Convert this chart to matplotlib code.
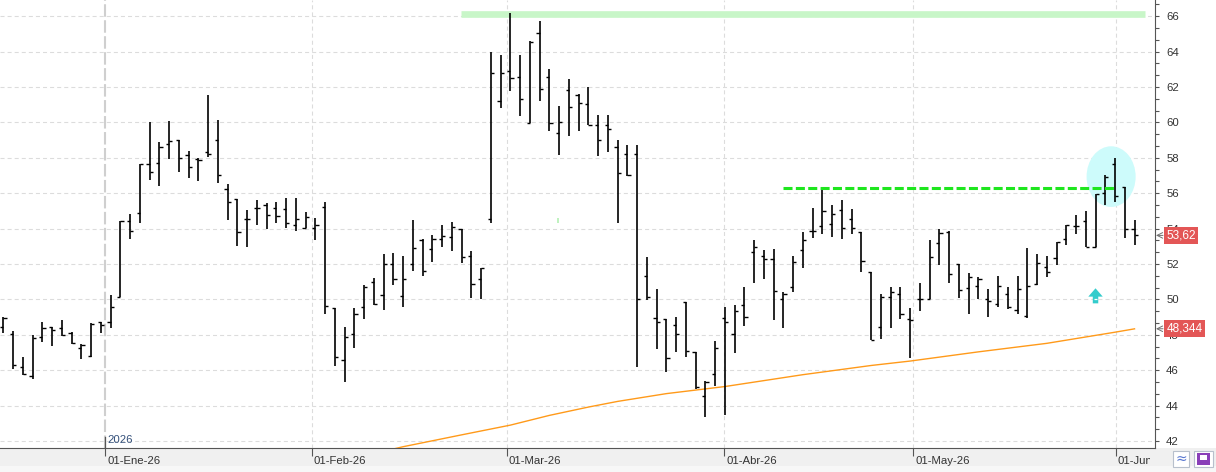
import numpy as np
import matplotlib.pyplot as plt
import matplotlib.patches as mpatches
import matplotlib.transforms as mtransforms

plt.rcParams["font.family"] = ["Liberation Sans", "DejaVu Sans"]
plt.rcParams["lines.scale_dashes"] = False

# Daily OHLC bars, one per session
opens = [48.43, 48.05, 46.20, 45.68, 47.86, 48.43, 48.37, 48.11, 47.24, 46.79,
         48.71, 48.71, 50.16, 54.42, 54.87, 57.64, 57.69, 58.77, 59.01, 58.14,
         57.94, 58.31, 58.99, 56.22, 55.66, 54.53, 55.15, 55.32, 55.15, 55.09,
         54.19, 54.01, 54.01, 55.21, 49.50, 46.57, 48.04, 49.56, 51.01, 50.24,
         51.99, 50.20, 51.99, 53.36, 52.84, 53.40, 53.51, 53.96, 52.46, 51.16,
         54.53, 61.21, 62.91, 62.59, 59.99, 65.04, 62.55, 59.39, 61.83, 61.55,
         61.03, 59.86, 59.86, 58.60, 58.22, 58.22, 51.33, 48.93, 48.90, 48.54,
         49.86, 47.05, 44.55, 45.77, 48.93, 48.05, 49.67, 52.66, 52.44, 52.27,
         50.01, 50.69, 52.78, 53.89, 54.13, 54.25, 55.04, 54.55, 53.81, 51.53,
         48.43, 50.12, 50.29, 48.90, 50.01, 50.01, 53.19, 53.83, 51.99, 50.63,
         50.74, 50.01, 49.73, 50.29, 49.41, 49.07, 50.86, 51.86, 52.37, 53.42,
         54.14, 54.44, 52.99, 56.00, 57.66, 56.34, 53.97]
highs = [49.00, 48.20, 46.77, 47.99, 48.73, 48.43, 48.84, 48.14, 47.47, 48.65,
         48.71, 50.25, 54.42, 54.83, 57.64, 60.01, 58.90, 60.08, 59.01, 58.39,
         57.97, 61.55, 60.12, 56.51, 55.66, 55.06, 55.62, 55.43, 55.51, 55.73,
         55.72, 54.93, 54.59, 55.49, 49.50, 48.43, 49.50, 50.82, 51.20, 52.56,
         52.61, 52.46, 54.50, 53.40, 53.63, 54.21, 54.38, 54.00, 52.74, 51.80,
         63.96, 63.81, 66.17, 63.81, 64.60, 65.73, 63.02, 60.93, 62.46, 61.59,
         61.99, 60.42, 60.42, 59.01, 58.73, 58.73, 52.40, 50.59, 48.90, 49.01,
         49.86, 47.05, 45.39, 47.67, 49.58, 49.69, 50.72, 53.36, 52.80, 52.85,
         50.40, 52.44, 53.81, 55.15, 56.18, 55.34, 55.62, 55.11, 53.81, 51.57,
         50.29, 50.70, 50.69, 49.50, 50.91, 53.36, 53.96, 53.89, 51.99, 51.48,
         51.29, 50.57, 51.33, 50.69, 51.33, 52.89, 52.57, 52.46, 53.25, 54.21,
         54.78, 54.97, 55.96, 57.04, 57.98, 56.34, 54.50]
lows = [48.09, 46.05, 45.73, 45.49, 47.62, 47.39, 47.94, 47.47, 46.62, 46.77,
        48.12, 48.41, 50.16, 53.40, 54.34, 56.75, 56.43, 57.94, 57.22, 56.88,
        56.71, 58.07, 56.56, 54.49, 53.04, 52.98, 54.23, 54.00, 54.34, 54.06,
        53.89, 54.01, 53.36, 49.18, 46.25, 45.36, 47.26, 48.90, 49.71, 49.41,
        50.82, 49.60, 51.58, 51.35, 52.09, 52.98, 52.76, 52.08, 50.10, 50.03,
        54.34, 60.84, 61.80, 60.39, 59.95, 61.23, 59.54, 58.16, 59.26, 59.54,
        59.86, 58.13, 58.35, 54.34, 57.00, 46.20, 49.99, 47.22, 45.92, 47.05,
        46.77, 44.92, 43.38, 45.11, 43.45, 47.00, 48.52, 50.95, 51.18, 48.84,
        48.41, 50.44, 51.80, 53.49, 53.72, 53.55, 53.44, 53.72, 51.57, 47.69,
        47.79, 48.41, 48.88, 46.71, 49.37, 50.01, 51.93, 50.95, 50.10, 49.20,
        50.01, 48.99, 49.59, 49.44, 49.16, 48.94, 50.82, 51.26, 51.97, 53.08,
        53.72, 52.99, 52.99, 55.34, 55.53, 53.50, 53.05]
closes = [48.93, 46.30, 45.79, 47.80, 48.37, 48.28, 47.99, 47.52, 47.43, 48.63,
          48.54, 49.59, 54.42, 53.85, 57.64, 57.18, 58.60, 58.95, 57.97, 57.47,
          57.86, 58.24, 57.01, 55.49, 53.83, 54.53, 55.15, 54.75, 54.72, 54.30,
          54.53, 54.65, 54.19, 49.62, 46.77, 47.90, 49.17, 50.69, 49.77, 51.99,
          51.14, 51.14, 52.89, 51.60, 53.40, 53.59, 54.08, 52.38, 50.86, 51.76,
          62.78, 62.78, 62.49, 61.33, 64.53, 61.87, 59.95, 60.01, 60.86, 61.08,
          59.86, 58.99, 59.61, 57.13, 57.01, 50.01, 50.16, 48.71, 46.68, 48.03,
          47.09, 45.04, 45.36, 47.26, 48.71, 49.33, 48.99, 52.95, 52.27, 50.46,
          50.29, 52.10, 53.34, 53.85, 54.98, 54.81, 54.04, 54.02, 52.17, 47.69,
          50.12, 50.40, 49.16, 48.82, 50.01, 52.38, 53.77, 51.44, 50.54, 51.29,
          51.14, 49.90, 50.76, 49.59, 50.57, 50.77, 52.05, 51.54, 53.25, 54.19,
          54.14, 52.99, 55.96, 56.92, 55.87, 53.97, 53.62]

# moving average (orange line), read at a handful of sessions
ma_idx = [40, 41, 47, 52, 56, 60, 63, 68, 74, 82, 89, 93, 100, 107, 114, 116]
ma_val = [41.55, 41.68, 42.35, 42.90, 43.45, 43.92, 44.24, 44.68, 45.08, 45.75,
          46.27, 46.52, 47.04, 47.52, 48.15, 48.34]

date_labels = ["01-Ene-26", "01-Feb-26", "01-Mar-26", "01-Abr-26", "01-May-26", "01-Jun-26"]
date_pos = [10.46, 31.63, 51.63, 73.95, 93.33, 114.09]

last_close = 53.62
last_ma = 48.344
top_level = 66.11       # light green band (max high)
break_level = 56.28     # green dashed line
break_span = (80.0, 114.0)
top_span = (46.95, 117.1)
signal_idx, signal_price = 112.0, 50.16
circle_idx, circle_price = 113.6, 56.94

# figure geometry in pixels
W, H = 1216, 472
plot_w, plot_h = 1155, 448.3

fig = plt.figure(figsize=(W / 100, H / 100), dpi=100, facecolor="#f0f0f0")
ax = fig.add_axes([0, (H - plot_h) / H, plot_w / W, plot_h / H])
fig.patches.append(mpatches.Rectangle(((plot_w) / W, (H - plot_h) / H), (W - plot_w) / W, plot_h / H,
                                      transform=fig.transFigure, fc="white", ec="none", zorder=-1))
fig.patches.append(mpatches.Rectangle((0, 0), 1, 6 / H, transform=fig.transFigure,
                                      fc="#f7f7f7", ec="none", zorder=-1))

n = len(opens)
idx = np.arange(n)

ax.set_xlim(-0.34, 118.1)
ax.set_ylim(41.59, 66.92)

# grid
grid_c = "#dcdcdc"
for v in range(42, 67, 2):
    ax.axhline(v, color=grid_c, lw=0.8, dashes=(2.9, 2.2), zorder=1)
for p in date_pos[1:]:
    ax.axvline(p, color=grid_c, lw=0.8, dashes=(2.9, 2.2), zorder=1)
ax.axvline(date_pos[0], color="#cfcfcf", lw=1.5, dashes=(9, 2.5), zorder=1)

# annotations drawn behind the bars
ax.plot(top_span, [top_level, top_level], color="#c8f6c8", lw=4.8, solid_capstyle="butt", zorder=2)
ax.add_patch(mpatches.Ellipse((circle_idx, circle_price), 5.03, 3.43, fc="#cdfbfb", ec="none", zorder=2))
ax.vlines(56.9, 54.30, 54.59, color="#b4f0b4", lw=1.2, zorder=2)

# moving average
ax.plot(ma_idx, ma_val, color="#ff9a1a", lw=1.0, zorder=3)

# OHLC bars
ax.vlines(idx, lows, highs, color="black", lw=1.2, zorder=4)
ax.hlines(opens, idx - 0.33, idx, color="black", lw=1.0, zorder=4)
ax.hlines(closes, idx, idx + 0.33, color="black", lw=1.0, zorder=4)

# breakout line
ax.plot(break_span, [break_level, break_level], color="#1ee61e", lw=2.2, dashes=(6.5, 2.4), zorder=5)

# buy arrow
sx, sy = signal_idx, signal_price
arrow = [(sx - 0.28, sy - 0.38), (sx - 0.28, sy), (sx - 0.74, sy), (sx, sy + 0.47),
         (sx + 0.74, sy), (sx + 0.28, sy), (sx + 0.28, sy - 0.38)]
ax.add_patch(mpatches.Polygon(arrow, closed=True, fc="#33cccc", ec="none", zorder=5))
ax.hlines(sy - 0.13, sx - 0.17, sx + 0.17, color="white", lw=0.9, zorder=6)

# axes styling
for s in ["top", "left"]:
    ax.spines[s].set_visible(False)
ax.spines["right"].set_color("#555555")
ax.spines["bottom"].set_color("#555555")
ax.yaxis.tick_right()
ax.set_yticks(np.arange(42, 67, 2))
ax.set_yticks(np.arange(42, 67, 2 / 3), minor=True)
ax.tick_params(axis="y", which="both", direction="out", length=3, width=0.8, color="#555555",
               labelsize=8.2, labelcolor="#333333", pad=5)
ax.set_xticks(date_pos)
ax.tick_params(axis="x", direction="out", length=6, width=0.8, color="#555555", labelbottom=False)

clip = mtransforms.TransformedBbox(mtransforms.Bbox([[0, 0], [1150 / W, 1]]), fig.transFigure)
shift = mtransforms.ScaledTranslation(2 / 100, 0, fig.dpi_scale_trans)
for p, lab in zip(date_pos, date_labels):
    t = ax.text(p, -(461 - plot_h) / plot_h, lab, transform=ax.get_xaxis_transform() + shift,
                ha="left", va="center", fontsize=8.2, color="#333333", clip_on=True)
    t.set_clip_box(clip)

# year marker
ax.axvline(date_pos[0], ymin=0, ymax=(plot_h - 437) / plot_h, color="#555555", lw=0.9, zorder=3)
ax.text(date_pos[0], (plot_h - 440) / plot_h, "2026", transform=ax.get_xaxis_transform() + shift,
        ha="left", va="center", fontsize=8.2, color="#34507a")

# last value labels on the price axis
for val, txt in [(last_close, f"{last_close:.2f}".replace(".", ",")),
                 (last_ma, f"{last_ma:.3f}".replace(".", ","))]:
    ax.text(1166.5 / plot_w, val, txt, transform=ax.get_yaxis_transform(), ha="left", va="center",
            color="white", fontsize=8.5, clip_on=False, zorder=10,
            bbox=dict(boxstyle="square,pad=0.2", fc="#e35656", ec="none"))
    ax.annotate("", xy=(1156 / plot_w, val), xytext=(1163 / plot_w, val),
                xycoords=ax.get_yaxis_transform(), textcoords=ax.get_yaxis_transform(),
                arrowprops=dict(arrowstyle="->", color="#707070", lw=0.7, shrinkA=0, shrinkB=0),
                annotation_clip=False, zorder=10)

# small toolbar buttons bottom right
for x0, w in [(1173, 16), (1194, 19)]:
    fig.patches.append(mpatches.Rectangle((x0 / W, (H - 467) / H), w / W, 16 / H, transform=fig.transFigure,
                                          fc="white", ec="#b8c0cc", lw=0.8))
fig.text(1181 / W, (H - 459) / H, "≈", ha="center", va="center", fontsize=10, color="#5a78d0",
         family="DejaVu Sans")
fig.patches.append(mpatches.Rectangle((1197 / W, (H - 465) / H), 13 / W, 12 / H, transform=fig.transFigure,
                                      fc="#8a3fb8", ec="none"))
fig.patches.append(mpatches.Rectangle((1200 / W, (H - 460) / H), 7 / W, 5 / H, transform=fig.transFigure,
                                      fc="white", ec="none"))

fig.savefig("out.png", dpi=100, facecolor=fig.get_facecolor())
